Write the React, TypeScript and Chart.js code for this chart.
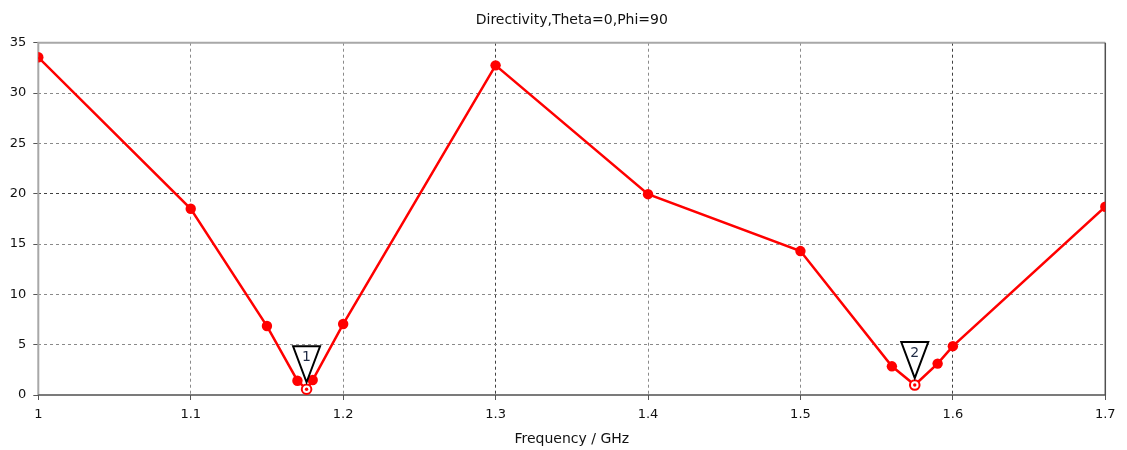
import { useEffect, useRef } from 'react';
import { Chart, registerables } from 'chart.js';

Chart.register(...registerables);

const frequencies = [1.0, 1.1, 1.15, 1.17, 1.176, 1.18, 1.2, 1.3, 1.4, 1.5, 1.56, 1.575, 1.59, 1.6, 1.7];
const directivity = [33.55, 18.5, 6.85, 1.42, 0.57, 1.49, 7.05, 32.75, 19.95, 14.3, 2.85, 0.99, 3.12, 4.85, 18.7];
const markerIndices = [4, 11];
const markerLabels = ['1', '2'];
const titleText = 'Directivity,Theta=0,Phi=90';
const xAxisTitle = 'Frequency / GHz';
const darkXGrid = [1.3, 1.6];
const darkYGrid = [20];

const FONT = '"DejaVu Sans", Verdana, sans-serif';
const RED = '#ff0000';

const overlay = {
  id: 'overlay',
  beforeDraw(chart: any) {
    const { ctx, width, height } = chart;
    ctx.save();
    ctx.fillStyle = '#ffffff';
    ctx.fillRect(0, 0, width, height);
    ctx.restore();
  },
  beforeDatasetsDraw(chart: any) {
    const { ctx, chartArea: a } = chart;
    ctx.save();
    ctx.lineWidth = 2;
    ctx.strokeStyle = '#a8a8a8';
    ctx.beginPath();
    ctx.moveTo(a.left, a.bottom);
    ctx.lineTo(a.left, a.top);
    ctx.lineTo(a.right, a.top);
    ctx.stroke();
    ctx.lineWidth = 1.5;
    ctx.strokeStyle = '#505050';
    ctx.beginPath();
    ctx.moveTo(a.left, a.bottom);
    ctx.lineTo(a.right, a.bottom);
    ctx.lineTo(a.right, a.top);
    ctx.stroke();
    ctx.restore();
  },
  afterDatasetsDraw(chart: any) {
    const { ctx } = chart;
    const xs = chart.scales.x;
    const ys = chart.scales.y;
    ctx.save();
    markerIndices.forEach((idx, k) => {
      const px = xs.getPixelForValue(frequencies[idx]);
      const py = ys.getPixelForValue(directivity[idx]);
      // hollow marker circle with centre dot
      ctx.beginPath();
      ctx.arc(px, py, 4.8, 0, Math.PI * 2);
      ctx.fillStyle = '#ffffff';
      ctx.fill();
      ctx.lineWidth = 2;
      ctx.strokeStyle = RED;
      ctx.stroke();
      ctx.beginPath();
      ctx.arc(px, py, 1.7, 0, Math.PI * 2);
      ctx.fillStyle = RED;
      ctx.fill();
      // inverted triangle label
      const apexY = py - 7;
      const topY = py - 43;
      ctx.beginPath();
      ctx.moveTo(px - 13.5, topY);
      ctx.lineTo(px + 13.5, topY);
      ctx.lineTo(px, apexY);
      ctx.closePath();
      ctx.fillStyle = '#ffffff';
      ctx.fill();
      ctx.lineWidth = 2;
      ctx.strokeStyle = '#000000';
      ctx.lineJoin = 'miter';
      ctx.stroke();
      ctx.fillStyle = '#1f2a44';
      ctx.font = '14px ' + FONT;
      ctx.textAlign = 'center';
      ctx.textBaseline = 'middle';
      ctx.fillText(markerLabels[k], px, topY + 11);
    });
    ctx.restore();
  },
  afterDraw(chart: any) {
    const { ctx, chartArea: a } = chart;
    const cx = (a.left + a.right) / 2;
    ctx.save();
    ctx.fillStyle = '#111111';
    ctx.textAlign = 'center';
    ctx.textBaseline = 'middle';
    ctx.font = '14px ' + FONT;
    ctx.fillText(titleText, cx, 20);
    ctx.font = '14px ' + FONT;
    ctx.fillText(xAxisTitle, cx, 439);
    ctx.restore();
  },
};

export default function App() {
  const ref = useRef<HTMLCanvasElement | null>(null);
  useEffect(() => {
    document.body.style.margin = '0';
    const canvas = ref.current;
    if (!canvas) return;
    const points = frequencies.map((f, i) => ({ x: f, y: directivity[i] }));
    const chart = new Chart(canvas, {
      type: 'scatter',
      data: {
        datasets: [
          {
            data: points,
            showLine: true,
            borderColor: RED,
            borderWidth: 2.5,
            backgroundColor: RED,
            pointBackgroundColor: RED,
            pointBorderColor: RED,
            pointBorderWidth: 0,
            pointRadius: frequencies.map((_, i) => (markerIndices.includes(i) ? 0 : 5.2)),
            pointHoverRadius: 0,
            tension: 0,
          },
        ],
      },
      options: {
        responsive: false,
        animation: false,
        devicePixelRatio: 1,
        layout: { padding: { top: 42.7, right: 21.7, left: 0, bottom: 0 } },
        plugins: {
          legend: { display: false },
          title: { display: false },
          tooltip: { enabled: false },
        },
        scales: {
          x: {
            type: 'linear',
            min: 1,
            max: 1.7,
            afterFit: (s: any) => {
              s.height = 55;
            },
            ticks: {
              stepSize: 0.1,
              color: '#111111',
              font: { family: FONT, size: 13 },
              padding: 7,
              maxRotation: 0,
              callback: (v: any) => String(+(+v).toFixed(2)),
            },
            grid: {
              color: (c: any) => {
                const v = c.tick ? +(+c.tick.value).toFixed(2) : 0;
                if (v === 1 || v === 1.7) return 'rgba(0,0,0,0)';
                return darkXGrid.includes(v) ? '#404040' : '#8a8a8a';
              },
              lineWidth: 1,
              tickLength: 5,
              tickColor: '#555555',
              tickWidth: 1,
            },
            border: { display: false, dash: [3, 3] },
          },
          y: {
            type: 'linear',
            min: 0,
            max: 35,
            afterFit: (s: any) => {
              s.width = 38.3;
            },
            ticks: {
              stepSize: 5,
              color: '#111111',
              font: { family: FONT, size: 13 },
              padding: 7,
            },
            grid: {
              color: (c: any) => {
                const v = c.tick ? c.tick.value : 0;
                if (v === 0 || v === 35) return 'rgba(0,0,0,0)';
                return darkYGrid.includes(v) ? '#404040' : '#8a8a8a';
              },
              lineWidth: 1,
              tickLength: 5,
              tickColor: '#555555',
              tickWidth: 1,
            },
            border: { display: false, dash: [3, 3] },
          },
        },
      },
      plugins: [overlay],
    });
    return () => chart.destroy();
  }, []);
  return (
    <div style={{ width: 1127, height: 450 }}>
      <canvas ref={ref} width={1127} height={450} style={{ display: 'block' }} />
    </div>
  );
}
